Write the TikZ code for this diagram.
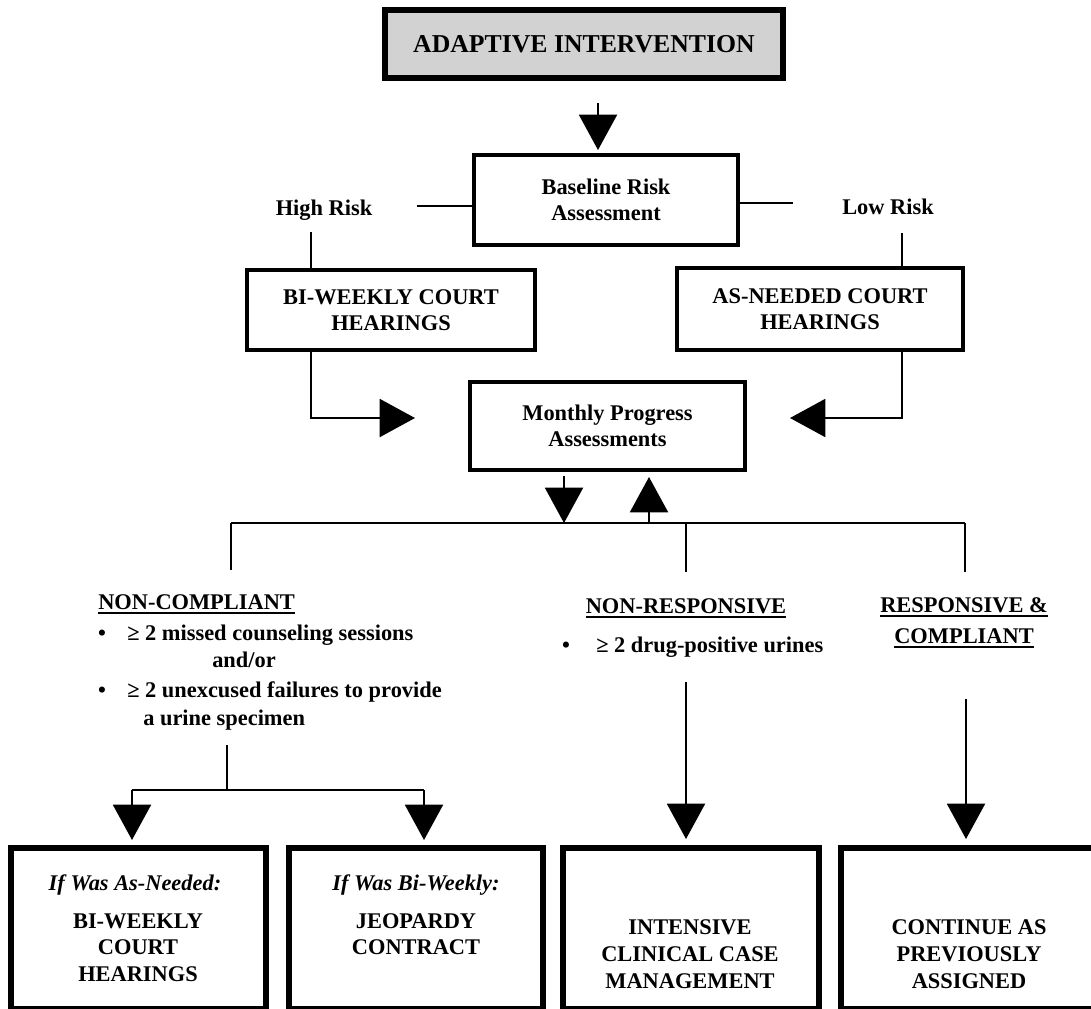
\documentclass[tikz,border=0pt]{standalone}
\usepackage{fontspec}
\setmainfont{Liberation Serif}
\newcommand\ulx[1]{\leavevmode\setbox0=\hbox{#1}\rlap{\copy0}\rule[-3.4pt]{\wd0}{1.4pt}}
\usetikzlibrary{arrows.meta}
\begin{document}
\begin{tikzpicture}[x=0.75pt,y=-0.75pt,
  box/.style 2 args={draw, line width=3.3pt, inner sep=0pt, minimum width=#1*0.75pt, minimum height=#2*0.75pt, align=center},
  bigbox/.style 2 args={box={#1}{#2}, line width=3.8pt},
  txt/.style={inner sep=0pt, font=\fontsize{16.8}{19.5}\selectfont\bfseries},
  conn/.style={line width=1.5pt},
  tip/.style={-{Triangle[width=28.5pt,length=26.5pt]}},
]
\clip (0,0) rectangle (1091,1008);
\useasboundingbox (0,0) rectangle (1091,1008);

% top
\node[bigbox={398}{68}, fill=gray!35, font=\fontsize{19.3}{22}\selectfont\bfseries] (top) at (584,44) {ADAPTIVE INTERVENTION};
\coordinate (a1s) at (598,103);
\coordinate (a1e) at (598,150);
\draw[conn,tip] (a1s) -- (a1e);

% baseline
\node[box={264}{90}, txt, line width=3.5pt] (base) at (606,200) {Baseline Risk\\Assessment};
\node[txt] (hr) at (324,210) {High Risk};
\node[txt] (lr) at (888,207) {Low Risk};
\coordinate (hrl) at (417,206);
\coordinate (lrl) at (793,203);
\draw[conn] (base.west |- hrl) -- (hrl);
\draw[conn] (base.east |- lrl) -- (lrl);

% court boxes
\node[box={288}{80}, txt] (bw) at (391,310) {BI-WEEKLY COURT\\HEARINGS};
\node[box={286}{82}, txt] (an) at (820,309) {AS-NEEDED COURT\\HEARINGS};
\coordinate (hrv) at (311,232);
\coordinate (lrv) at (902,233);
\draw[conn] (hrv) -- (hrv |- bw.north);
\draw[conn] (lrv) -- (lrv |- an.north);

% monthly
\node[box={275}{88}, txt, line width=3.5pt] (mp) at (607.5,426) {Monthly Progress\\Assessments};
\coordinate (la) at (415,418);
\coordinate (ra) at (790,418);
\draw[conn,tip] (hrv |- bw.south) -- (hrv |- la) -- (la);
\draw[conn,tip] (lrv |- an.south) -- (lrv |- ra) -- (ra);

% branch
\coordinate (bl) at (231,523);
\coordinate (bm) at (686,523);
\coordinate (br) at (965,523);
\draw[conn] (bl) -- (br);
\coordinate (dn) at (564,476);
\coordinate (up) at (649,477);
\draw[conn,tip] (dn) -- (dn |- bl);
\draw[conn,tip] (up |- bl) -- (up);
\draw[conn] (bl) -- ++(0,47);
\draw[conn] (bm) -- ++(0,49);
\draw[conn] (br) -- ++(0,49);

% non-compliant text
\node[txt, anchor=base west] (nc) at (98,609) {\ulx{NON-COMPLIANT}};
\node[txt, anchor=base] (b1) at (102,640) {•};
\node[txt, anchor=base west] (t1) at (127,640) {≥ 2 missed counseling sessions};
\node[txt, anchor=base west] (t2) at (212,667) {and/or};
\node[txt, anchor=base] (b2) at (102,697) {•};
\node[txt, anchor=base west] (t3) at (127,697) {≥ 2 unexcused failures to provide};
\node[txt, anchor=base west] (t4) at (143,725) {a urine specimen};

% non-responsive
\node[txt, anchor=base] (nr) at (686,613) {\ulx{NON-RESPONSIVE}};
\node[txt, anchor=base] (b3) at (566,652) {•};
\node[txt, anchor=base west] (t5) at (596,652) {≥ 2 drug-positive urines};

% responsive
\node[txt, anchor=base] (rc1) at (964,612) {\ulx{RESPONSIVE \&}};
\node[txt, anchor=base] (rc2) at (964,643) {\ulx{COMPLIANT}};

% bottom boxes
\node[bigbox={255}{161}] (o1) at (138.5,928.5) {};
\node[bigbox={254}{161}] (o2) at (416,928.5) {};
\node[bigbox={256}{161}] (o3) at (691,928.5) {};
\node[bigbox={270}{161}] (o4) at (976,928.5) {};

% bottom arrows
\coordinate (nv) at (227,745);
\coordinate (nh) at (227,790);
\coordinate (l1) at (132,790);
\coordinate (l2) at (424,790);
\draw[conn] (nv) -- (nh);
\draw[conn] (l1) -- (l2);
\draw[conn,tip] (l1) -- (132,840);
\draw[conn,tip] (l2) -- (424,840);
\coordinate (m1) at (686,682);
\coordinate (r1) at (966,699);
\draw[conn,tip] (m1) -- (686,839);
\draw[conn,tip] (r1) -- (966,839);

% bottom texts
\node[txt, anchor=base] at (135,890) {\textit{If Was As-Needed:}};
\node[txt, anchor=base] at (138,928) {BI-WEEKLY};
\node[txt, anchor=base] at (138,954) {COURT};
\node[txt, anchor=base] at (138,981) {HEARINGS};
\node[txt, anchor=base] at (416,890) {\textit{If Was Bi-Weekly:}};
\node[txt, anchor=base] at (416,928) {JEOPARDY};
\node[txt, anchor=base] at (416,954) {CONTRACT};
\node[txt, anchor=base] at (690,934) {INTENSIVE};
\node[txt, anchor=base] at (690,961) {CLINICAL CASE};
\node[txt, anchor=base] at (690,988) {MANAGEMENT};
\node[txt, anchor=base] at (969,934) {CONTINUE AS};
\node[txt, anchor=base] at (969,961) {PREVIOUSLY};
\node[txt, anchor=base] at (969,988) {ASSIGNED};
\end{tikzpicture}
\end{document}
